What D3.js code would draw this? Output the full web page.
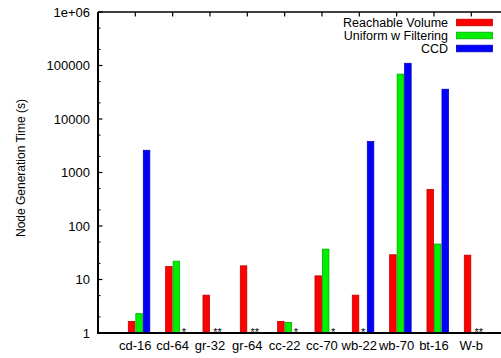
<!DOCTYPE html>
<html>
<head>
<meta charset="utf-8">
<script src="https://cdn.jsdelivr.net/npm/d3@7/dist/d3.min.js"></script>
<style>
  html, body { margin: 0; padding: 0; background: #fff; }
  svg { display: block; font-family: "Liberation Sans", Arial, Helvetica, sans-serif; }
</style>
</head>
<body>
<div id="chart"></div>
<script>
const categories = ['cd-16', 'cd-64', 'gr-32', 'gr-64', 'cc-22', 'cc-70', 'wb-22', 'wb-70', 'bt-16', 'W-b'];
const seriesNames = ['Reachable Volume', 'Uniform w Filtering', 'CCD'];
const seriesColors = ['#ff0000', '#00ee00', '#0000ff'];
const seriesStroke = ['#c00000', '#00b000', '#0000c0'];

// null = run did not finish (marked with stars under the axis)
const reachableVolume = [1.65, 17.5, 5.1, 18, 1.65, 11.7, 5.1, 29, 480, 28.5];
const uniformFiltering = [2.3, 22, null, null, 1.58, 37, null, 69000, 46, null];
const ccd = [2600, null, null, null, null, null, 3800, 110000, 36000, null];

const yTicks = [1, 10, 100, 1000, 10000, 100000, 1000000];
const yTickLabels = ['1', '10', '100', '1000', '10000', '100000', '1e+06'];

const W = 501, H = 358;
const plotLeft = 98, plotTop = 12, plotBottom = 333;

const svg = d3.select('#chart').append('svg')
  .attr('width', W)
  .attr('height', H);

const x0 = d3.scalePoint()          // category tick positions
  .domain(categories)
  .range([135.3, 471.3]);

const x1 = d3.scaleBand()           // bar offset inside a group
  .domain(seriesNames)
  .range([-7.5, 15]);

const y = d3.scaleLog()
  .domain([1, 1e6])
  .range([plotBottom, plotTop]);

const series = [reachableVolume, uniformFiltering, ccd];
const bars = [];
const missing = {};
categories.forEach((c, i) => {
  series.forEach((vals, s) => {
    if (vals[i] === null) {
      (missing[c] = missing[c] || []).push(seriesNames[s]);
    } else {
      bars.push({cat: c, s, value: vals[i]});
    }
  });
});

const g = svg.append('g');

g.selectAll('.bar')
  .data(bars)
  .enter().append('rect')
    .attr('class', 'bar')
    .attr('x', d => x0(d.cat) + x1(seriesNames[d.s]) + 0.5)
    .attr('y', d => y(d.value))
    .attr('width', x1.bandwidth() - 1)
    .attr('height', d => plotBottom - y(d.value))
    .attr('fill', d => seriesColors[d.s])
    .attr('stroke', d => seriesStroke[d.s])
    .attr('stroke-width', 0.8);

// stars for missing runs
g.selectAll('.star')
  .data(Object.entries(missing))
  .enter().append('text')
    .attr('class', 'star')
    .attr('x', ([c, names]) => x0(c) + d3.mean(names, n => x1(n) + x1.bandwidth() / 2))
    .attr('y', plotBottom + 2.5)
    .style('font-size', '11px')
    .style('text-anchor', 'middle')
    .text(([, names]) => '*'.repeat(names.length));

// minor y ticks at 2 and 5 per decade
const minor = [];
yTicks.slice(0, -1).forEach(t => { minor.push(t * 2, t * 5); });

g.selectAll('.ytick-minor')
  .data(minor)
  .enter().append('line')
    .attr('x1', plotLeft).attr('x2', plotLeft + 2.5)
    .attr('y1', d => y(d)).attr('y2', d => y(d))
    .attr('stroke', '#000').attr('stroke-width', 1);

g.selectAll('.ytick')
  .data(yTicks)
  .enter().append('line')
    .attr('x1', plotLeft).attr('x2', plotLeft + 4.5)
    .attr('y1', d => y(d)).attr('y2', d => y(d))
    .attr('stroke', '#000').attr('stroke-width', 1.2);

g.selectAll('.ylabel')
  .data(yTicks)
  .enter().append('text')
    .attr('x', 90)
    .attr('y', d => y(d))
    .attr('dy', '0.35em')
    .style('font-size', '13px')
    .style('text-anchor', 'end')
    .text((d, i) => yTickLabels[i]);

// top mirrored x ticks
g.selectAll('.xtick-top')
  .data(categories)
  .enter().append('line')
    .attr('x1', d => x0(d)).attr('x2', d => x0(d))
    .attr('y1', plotTop).attr('y2', plotTop + 4.5)
    .attr('stroke', '#000').attr('stroke-width', 1.2);

g.selectAll('.xlabel')
  .data(categories)
  .enter().append('text')
    .attr('x', d => x0(d))
    .attr('y', 350)
    .style('font-size', '13px')
    .style('text-anchor', 'middle')
    .text(d => d);

// frame
g.append('line').attr('x1', plotLeft).attr('x2', W).attr('y1', plotTop).attr('y2', plotTop)
  .attr('stroke', '#000').attr('stroke-width', 1.5);
g.append('line').attr('x1', plotLeft).attr('x2', W).attr('y1', plotBottom).attr('y2', plotBottom)
  .attr('stroke', '#000').attr('stroke-width', 2);
g.append('line').attr('x1', plotLeft).attr('x2', plotLeft).attr('y1', plotTop).attr('y2', plotBottom + 1)
  .attr('stroke', '#000').attr('stroke-width', 2);

svg.append('text')
  .attr('transform', 'translate(25,168) rotate(-90)')
  .style('font-size', '12px')
  .style('text-anchor', 'middle')
  .text('Node Generation Time (s)');

// legend
const legend = svg.append('g');
seriesNames.forEach((name, i) => {
  const ly = 22.5 + i * 13;
  legend.append('text')
    .attr('x', 448)
    .attr('y', ly)
    .attr('dy', '0.36em')
    .style('font-size', '12.5px')
    .style('text-anchor', 'end')
    .text(name);
  legend.append('rect')
    .attr('x', 456.5)
    .attr('y', ly - 3.3)
    .attr('width', 36)
    .attr('height', 6.6)
    .attr('fill', seriesColors[i])
    .attr('stroke', seriesStroke[i])
    .attr('stroke-width', 0.8);
});
</script>
</body>
</html>
